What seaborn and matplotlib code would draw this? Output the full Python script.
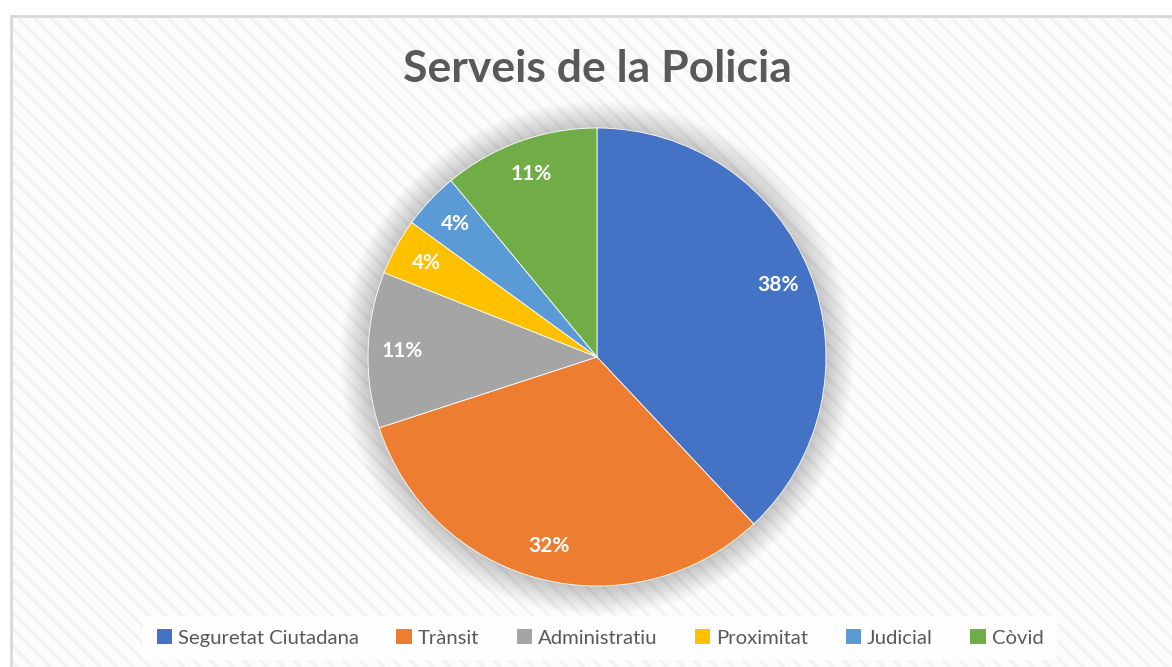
import matplotlib
matplotlib.use("Agg")
import matplotlib.pyplot as plt
from matplotlib.patches import Rectangle, Circle, Patch
import seaborn as sns

# data
categories = ["Seguretat Ciutadana", "Trànsit", "Administratiu", "Proximitat", "Judicial", "Còvid"]
values = [38, 32, 11, 4, 4, 11]
colors = ["#4472C4", "#ED7D31", "#A5A5A5", "#FFC000", "#5B9BD5", "#70AD47"]
title = "Serveis de la Policia"

sns.set_theme(style="white")
plt.rcParams["font.family"] = ["Lato", "DejaVu Sans"]
plt.rcParams["hatch.linewidth"] = 2.2
plt.rcParams["hatch.color"] = "#f2f2f2"

W, H = 1172, 667
fig = plt.figure(figsize=(W / 100, H / 100), dpi=100)
fig.patch.set_facecolor("white")

# chart area with excel-like diagonal pattern
bg = Rectangle((11 / W, 0), 1, 1 - 16 / H, transform=fig.transFigure,
               facecolor="#fcfcfc", edgecolor="#f2f2f2", hatch="\\\\", linewidth=0, zorder=-5)
fig.patches.append(bg)
border = Rectangle((11 / W, -0.01), 1, 1 - 16 / H + 0.01, transform=fig.transFigure,
                   facecolor="none", edgecolor="#d9d9d9", linewidth=2, zorder=-4)
fig.patches.append(border)

# pie axes: centre (597, 357), radius 229 px
cx, cy, r = 597, 357, 229
ax = fig.add_axes([(cx - r) / W, (H - cy - r) / H, 2 * r / W, 2 * r / H])
ax.set_xlim(-1, 1)
ax.set_ylim(-1, 1)
ax.set_aspect("equal")
ax.axis("off")

# soft shadow behind the pie
for i in range(28):
    ax.add_patch(Circle((0, -0.004), 1 + 0.0045 * i, color="#808080", alpha=0.016,
                        zorder=0, clip_on=False, linewidth=0))

wedges, texts, autotexts = ax.pie(
    values, colors=colors, startangle=90, counterclock=False, radius=1,
    autopct=lambda p: f"{p:.0f}%", pctdistance=0.85,
    wedgeprops=dict(linewidth=0.6, edgecolor="white"),
    textprops=dict(color="white", fontsize=15, fontweight="bold"))
for w in wedges:
    w.set_zorder(2)
for t in autotexts:
    t.set_zorder(3)
ax.set_xlim(-1, 1)
ax.set_ylim(-1, 1)

fig.text(cx / W, 1 - 82 / H, title, ha="center", va="baseline",
         fontsize=32, fontweight="bold", color="#595959")

handles = [Patch(facecolor=c, edgecolor="none") for c in colors]
leg = fig.legend(handles, categories, loc="center", bbox_to_anchor=(600 / W, 1 - 638 / H),
                 ncol=6, frameon=True, fontsize=14.6, handlelength=0.75, handleheight=0.75,
                 handletextpad=0.3, columnspacing=1.85, borderpad=0.65)
leg.get_frame().set_facecolor("white")
leg.get_frame().set_edgecolor("none")
leg.get_frame().set_alpha(0.85)
leg.get_frame().set_boxstyle("square", pad=0.0)
for t in leg.get_texts():
    t.set_color("#595959")

fig.savefig("out.png", dpi=100)
